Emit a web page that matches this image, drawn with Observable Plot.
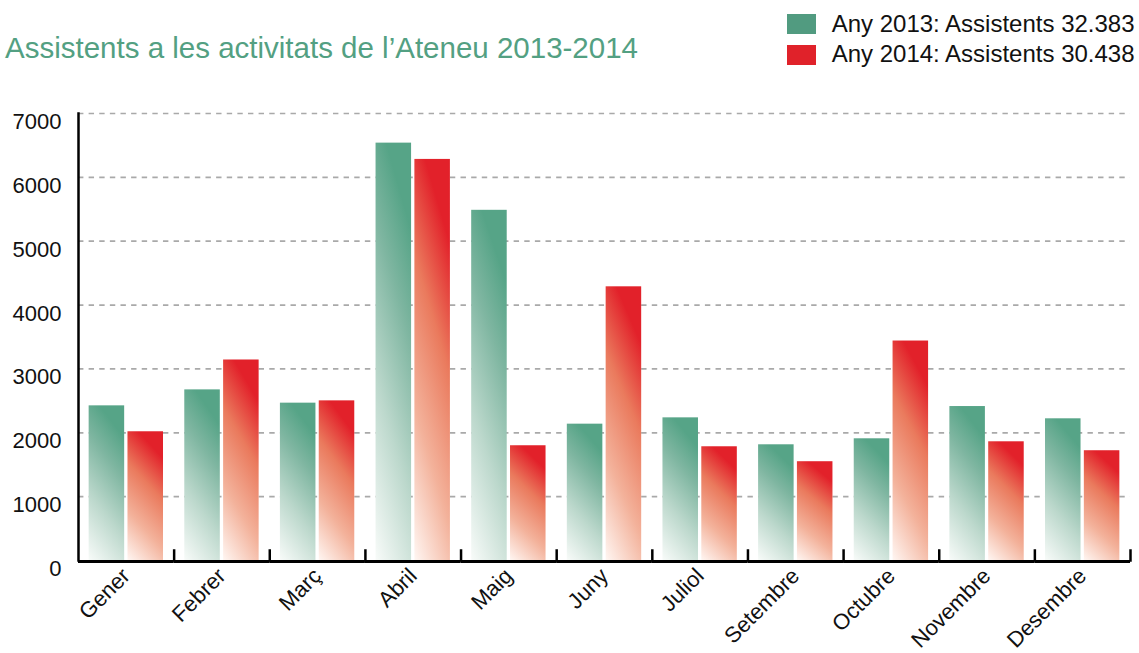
<!DOCTYPE html>
<html><head><meta charset="utf-8">
<script src="https://cdn.jsdelivr.net/npm/d3@7"></script>
<script src="https://cdn.jsdelivr.net/npm/@observablehq/plot@0.6"></script>
<style>
body{margin:0;background:#fff;font-family:"Liberation Sans",Arial,Helvetica,sans-serif;}
#header{position:relative;width:1139px;height:100px;}
#title{position:absolute;left:5px;top:33.3px;font-size:29.5px;line-height:29.5px;color:#53a082;white-space:nowrap;}
.leg{position:absolute;left:787px;height:24px;white-space:nowrap;font-size:24px;line-height:24px;color:#111;}
.sw{position:absolute;left:0;top:2.4px;width:29px;height:20px;}
.lt{position:absolute;left:44.7px;top:0;}
</style></head>
<body>
<div id="header"><div id="title"></div></div>
<div id="chart"></div>
<script>
const titleText = "Assistents a les activitats de l\u2019Ateneu 2013-2014";
const months = ["Gener","Febrer","Març","Abril","Maig","Juny","Juliol","Setembre","Octubre","Novembre","Desembre"];
const years = ["2013","2014"];
const values2013 = [2422,2672,2464,6536,5484,2135,2234,1812,1906,2411,2219];
const values2014 = [2016,3140,2500,6281,1797,4286,1781,1547,3437,1859,1719];
const totals = ["32.383","30.438"];
const yTicks = [0,1000,2000,3000,4000,5000,6000,7000];

const legendColors = ["#519b80","#e0222a"];
const legendTops = [12, 42.4];

document.getElementById("title").textContent = titleText;
const header = document.getElementById("header");
years.forEach((yr,i)=>{
  const item = document.createElement("div");
  item.className = "leg";
  item.style.top = legendTops[i] + "px";
  const sw = document.createElement("div");
  sw.className = "sw";
  sw.style.background = legendColors[i];
  const t = document.createElement("div");
  t.className = "lt";
  t.textContent = `Any ${yr}: Assistents ${totals[i]}`;
  item.appendChild(sw); item.appendChild(t);
  header.appendChild(item);
});

const rows = months.flatMap((m,i)=>[
  {month:m, year:years[0], value:values2013[i]},
  {month:m, year:years[1], value:values2014[i]}
]);

const chart = Plot.plot({
  width:1139, height:553,
  marginTop:13, marginBottom:93, marginLeft:78, marginRight:9,
  style:{fontFamily:"'Liberation Sans', Arial, sans-serif", fontSize:"22px", background:"transparent", overflow:"visible", color:"#111"},
  fx:{domain:months, padding:0, round:false, label:null},
  x:{domain:years, paddingInner:0.085, paddingOuter:0.274, round:false, axis:null},
  y:{domain:[0,7000], label:null},
  marks:[
    Plot.gridY(yTicks.slice(1), {stroke:"#a9a9a9", strokeOpacity:1, strokeWidth:1.7, strokeDasharray:"5.4,5.22"}),
    Plot.barY(rows.filter(d=>d.year===years[0]), {fx:"month", x:"year", y:"value", fill:"url(#grad2013)"}),
    Plot.barY(rows.filter(d=>d.year===years[1]), {fx:"month", x:"year", y:"value", fill:"url(#grad2014)"}),
    Plot.ruleY([0], {stroke:"black", strokeWidth:3, dy:1}),
    Plot.frame({anchor:"right", stroke:"black", strokeWidth:2.5, insetTop:437}),
    Plot.frame({anchor:"left", facetAnchor:"left", stroke:"black", strokeWidth:2.5}),
    Plot.axisY(yTicks, {tickSize:0, tickPadding:17, fontSize:22, dy:8.5, tickFormat:d=>String(d), label:null}),
    Plot.axisFx({anchor:"bottom", tickRotate:-45, tickSize:0, fontSize:22, label:null})
  ]
});

const defs = d3.create("svg:defs");
function grad(id, stops){
  const g = defs.append("linearGradient").attr("id", id)
    .attr("x1",0).attr("y1",1).attr("x2",0.3).attr("y2",0);
  stops.forEach(([o,c])=>g.append("stop").attr("offset",o).attr("stop-color",c));
}
grad("grad2013", [[0,"#f8fbf9"],[0.4,"#bcd8cc"],[0.75,"#7fb6a1"],[1,"#56a487"]]);
grad("grad2014", [[0,"#fff6f2"],[0.35,"#f3b29b"],[0.7,"#ea7a5d"],[1,"#e2212a"]]);
chart.insertBefore(defs.node(), chart.firstChild);
document.getElementById("chart").appendChild(chart);
</script>
</body></html>
